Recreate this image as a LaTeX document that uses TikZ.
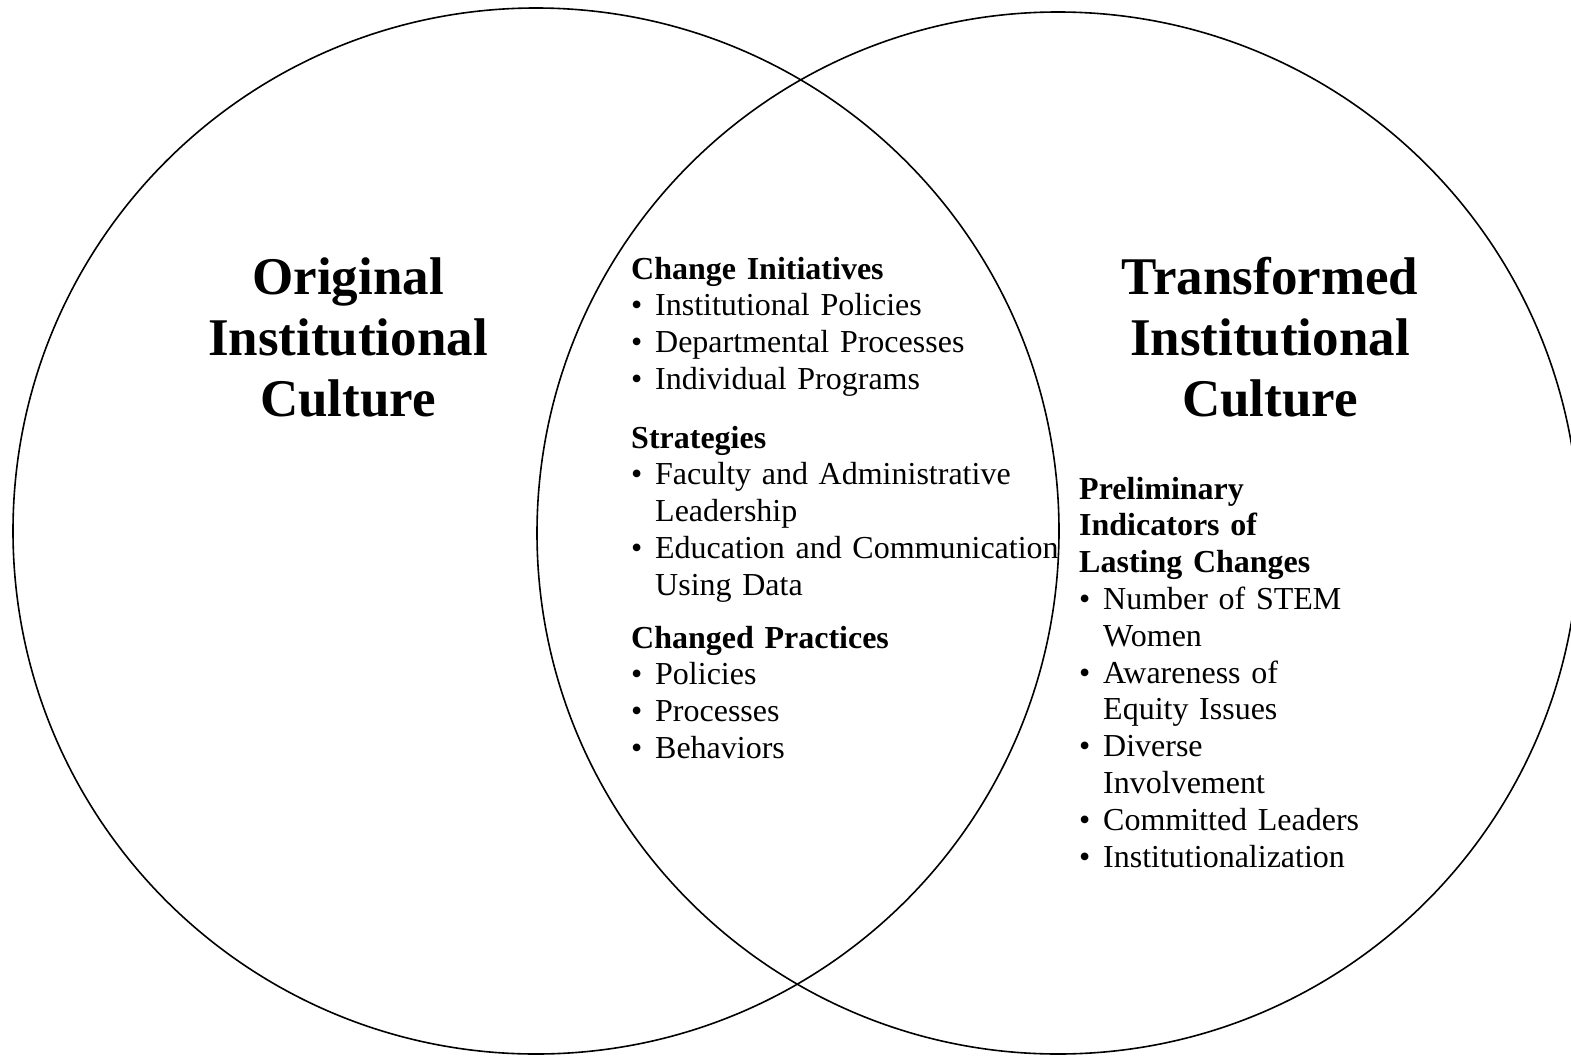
\documentclass[tikz,border=0pt]{standalone}
\usepackage{fontspec}
\setmainfont{Liberation Serif}
% bullet and hanging indent for the lists
\newcommand{\bul}{\makebox[24pt][l]{\textbullet}}
\newcommand{\hang}{\hspace*{24pt}}
\begin{document}
\begin{tikzpicture}[x=1pt,y=-1pt,
  ring/.style={line width=1.6pt},
  bigtitle/.style={anchor=base,text width=360pt,align=center,inner sep=0pt,
    font=\fontsize{53}{61}\selectfont\bfseries},
  listblock/.style={anchor=base west,text width=480pt,align=left,inner sep=0pt,
    font=\fontsize{32}{36.8}\selectfont}]
\useasboundingbox (0,0) rectangle (1571,1055);
\clip (0,0) rectangle (1571,1055);
% the two cultures
\coordinate (lc) at (536,531);
\coordinate (rc) at (1058,533);
\draw[ring] (lc) circle[radius=523pt];
\draw[ring] (rc) circle[radius=521pt];
\node[bigtitle] (orig) at (348,294) {Original\\Institutional\\Culture};
\node[bigtitle] (trans) at (1270,294) {Transformed\\Institutional\\Culture};
% overlap
\node[listblock] (init) at (631,279) {\textbf{Change Initiatives}\\
  \bul Institutional Policies\\
  \bul Departmental Processes\\
  \bul Individual Programs};
\node[listblock] (strat) at (631,448) {\textbf{Strategies}\\
  \bul Faculty and Administrative\\
  \hang Leadership\\
  \bul Education and Communication\\
  \hang Using Data};
\node[listblock] (pract) at (631,648) {\textbf{Changed Practices}\\
  \bul Policies\\
  \bul Processes\\
  \bul Behaviors};
% right side
\node[listblock] (indic) at (1079,499) {\textbf{Preliminary}\\
  \textbf{Indicators of}\\
  \textbf{Lasting Changes}\\
  \bul Number of STEM\\
  \hang Women\\
  \bul Awareness of\\
  \hang Equity Issues\\
  \bul Diverse\\
  \hang Involvement\\
  \bul Committed Leaders\\
  \bul Institutionalization};
\end{tikzpicture}
\end{document}
